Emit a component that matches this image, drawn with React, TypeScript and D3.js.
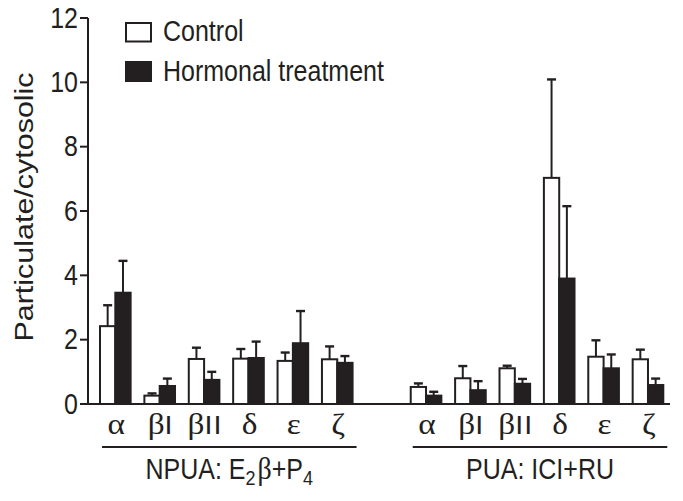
import React from "react";
import * as d3 from "d3";

const categories = ["α", "βI", "βII", "δ", "ε", "ζ"];
const groups = ["NPUA", "PUA"];
const seriesNames = ["Control", "Hormonal treatment"];

const npuaControl = [2.42, 0.26, 1.4, 1.41, 1.34, 1.39];
const npuaControlErr = [0.65, 0.07, 0.35, 0.3, 0.26, 0.4];
const npuaHormonal = [3.46, 0.56, 0.75, 1.43, 1.89, 1.28];
const npuaHormonalErr = [0.99, 0.23, 0.25, 0.51, 1.0, 0.21];

const puaControl = [0.53, 0.8, 1.11, 7.03, 1.47, 1.39];
const puaControlErr = [0.11, 0.38, 0.08, 3.06, 0.51, 0.3];
const puaHormonal = [0.26, 0.43, 0.63, 3.9, 1.11, 0.59];
const puaHormonalErr = [0.12, 0.28, 0.15, 2.25, 0.43, 0.2];

const yTicks = [0, 2, 4, 6, 8, 10, 12];

const INK = "#231f20";
const SANS = "Liberation Sans, Arial, sans-serif";
const SERIF = "Liberation Serif, serif";
const SY = 1.15; // vertical stretch of the reference's lettering

export default function App() {
  const W = 683;
  const H = 501;
  const axisX = 88;
  const y = d3.scaleLinear().domain([0, 12]).range([404, 18]);

  // 13 slots: 6 categories, one gap, 6 categories
  const slotKeys = [
    ...categories.map((c) => "NPUA|" + c),
    "gap",
    ...categories.map((c) => "PUA|" + c),
  ];
  const x = d3
    .scaleBand<string>()
    .domain(slotKeys)
    .range([100, 663.3])
    .paddingInner(0.31)
    .paddingOuter(0);
  const xs = d3
    .scaleBand<string>()
    .domain(seriesNames)
    .range([0, x.bandwidth()])
    .padding(0);

  const data = [
    { group: "NPUA", vals: [npuaControl, npuaHormonal], errs: [npuaControlErr, npuaHormonalErr] },
    { group: "PUA", vals: [puaControl, puaHormonal], errs: [puaControlErr, puaHormonalErr] },
  ];

  const bars: React.ReactNode[] = [];
  const errBars: React.ReactNode[] = [];
  data.forEach((g) => {
    categories.forEach((c, i) => {
      const x0 = x(g.group + "|" + c)!;
      seriesNames.forEach((s, si) => {
        const v = g.vals[si][i];
        const e = g.errs[si][i];
        const bx = x0 + xs(s)!;
        const bw = xs.bandwidth();
        const cx = bx + bw / 2;
        errBars.push(
          <g key={`e-${g.group}-${c}-${s}`} stroke={INK} strokeWidth={2}>
            <line x1={cx} x2={cx} y1={y(v)} y2={y(v + e)} />
            <line x1={cx - 4.5} x2={cx + 4.5} y1={y(v + e)} y2={y(v + e)} strokeWidth={2.4} />
          </g>
        );
        bars.push(
          <rect
            key={`b-${g.group}-${c}-${s}`}
            x={bx}
            y={y(v)}
            width={bw}
            height={y(0) - y(v)}
            fill={si === 0 ? "#ffffff" : INK}
            stroke={INK}
            strokeWidth={2}
          />
        );
      });
    });
  });

  const catLabel = (c: string) => {
    const greek = c[0];
    const rest = c.slice(1);
    return (
      <>
        <tspan fontFamily={SERIF} fontSize={29}>{greek}</tspan>
        {rest && (
          <tspan fontFamily={SANS} fontSize={25} dx={0} letterSpacing={1}>{rest}</tspan>
        )}
      </>
    );
  };

  const groupExtent = (g: string) => {
    const first = x(g + "|" + categories[0])!;
    const last = x(g + "|" + categories[categories.length - 1])! + x.bandwidth();
    return [first + 2, last + 4];
  };

  return (
    <svg
      width={W}
      height={H}
      style={{ position: "absolute", left: 0, top: 0, background: "#fff" }}
    >
      <rect width={W} height={H} fill="#fff" />
      {/* y axis */}
      <line x1={axisX} x2={axisX} y1={y(12)} y2={y(0)} stroke={INK} strokeWidth={2} />
      {yTicks.map((t) => (
        <g key={t}>
          <line x1={axisX - 8} x2={axisX} y1={y(t)} y2={y(t)} stroke={INK} strokeWidth={2} />
          <text
            transform={`translate(${axisX - 10}, ${y(t) + 9.5}) scale(1, ${SY})`}
            textAnchor="end"
            fontFamily={SANS}
            fontSize={25}
            fill={INK}
          >
            {t}
          </text>
        </g>
      ))}
      <text
        transform={`translate(33, 207) scale(1, ${SY}) rotate(-90)`}
        textAnchor="middle"
        fontFamily={SANS}
        fontSize={26.5}
        fill={INK}
      >
        Particulate/cytosolic
      </text>

      {errBars}
      {bars}

      {/* x baseline */}
      <line x1={axisX} x2={670} y1={y(0)} y2={y(0)} stroke={INK} strokeWidth={2} />

      {/* category labels */}
      {groups.map((g) =>
        categories.map((c) => (
          <text
            key={g + c}
            transform={`translate(${x(g + "|" + c)! + x.bandwidth() / 2 + 1}, 434) scale(1.15, 1.05)`}
            textAnchor="middle"
            fill={INK}
          >
            {catLabel(c)}
          </text>
        ))
      )}

      {/* group underlines */}
      {groups.map((g) => {
        const [a, b] = groupExtent(g);
        return <line key={"u" + g} x1={a} x2={b} y1={447} y2={447} stroke={INK} strokeWidth={2} />;
      })}

      {/* group labels */}
      {(() => {
        const [a, b] = groupExtent("NPUA");
        return (
          <text
            transform={`translate(${(a + b) / 2}, 479) scale(1, ${SY})`}
            textAnchor="middle"
            fontFamily={SANS}
            fontSize={25}
            fill={INK}
          >
            NPUA: E
            <tspan fontSize={18} dy={5}>2</tspan>
            <tspan fontFamily={SERIF} fontSize={28} dy={-5} dx={2}>β</tspan>
            <tspan>+P</tspan>
            <tspan fontSize={18} dy={5}>4</tspan>
          </text>
        );
      })()}
      {(() => {
        const [a, b] = groupExtent("PUA");
        return (
          <text
            transform={`translate(${(a + b) / 2}, 479) scale(1, ${SY})`}
            textAnchor="middle"
            fontFamily={SANS}
            fontSize={25}
            fill={INK}
          >
            PUA: ICI+RU
          </text>
        );
      })()}

      {/* legend */}
      <rect x={126} y={23} width={25} height={18.5} fill="#fff" stroke={INK} strokeWidth={2} />
      <text
        transform={`translate(163, 41) scale(1, ${SY})`}
        fontFamily={SANS}
        fontSize={25}
        fill={INK}
      >
        {seriesNames[0]}
      </text>
      <rect x={126} y={62} width={25} height={19} fill={INK} stroke={INK} strokeWidth={2} />
      <text
        transform={`translate(163, 81) scale(1, ${SY})`}
        fontFamily={SANS}
        fontSize={25}
        fill={INK}
      >
        {seriesNames[1]}
      </text>
    </svg>
  );
}
